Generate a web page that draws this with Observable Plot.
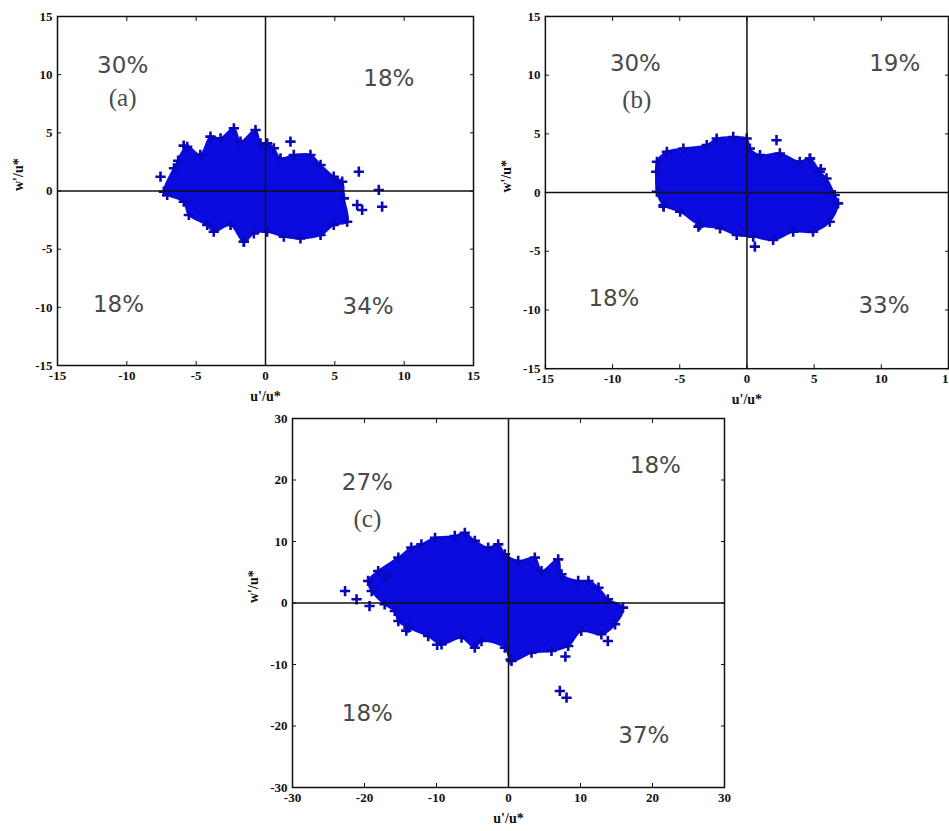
<!DOCTYPE html>
<html>
<head>
<meta charset="utf-8">
<script src="https://cdn.jsdelivr.net/npm/d3@7"></script>
<script src="https://cdn.jsdelivr.net/npm/@observablehq/plot@0.6"></script>
<style>
  html, body { margin: 0; padding: 0; background: #fff; overflow: hidden; }
  #wrap { position: relative; width: 949px; height: 831px; }
  .panel { position: absolute; }
  .panel svg { overflow: visible; background: transparent !important; }
</style>
</head>
<body>
<div id="wrap"></div>
<script>
// ---------- data ----------
const ticksAB = [-15, -10, -5, 0, 5, 10, 15];
const ticksC = [-30, -20, -10, 0, 10, 20, 30];
const xLabel = "u'/u*";
const yLabel = "w'/u*";

// outline of the dense point cloud, panel (a): [u'/u*, w'/u*]
const cloudA = [
  [-7.33,-0.06],[-6.6,1.95],[-5.65,3.8],[-4.7,3.1],[-3.97,4.67],[-3.24,4.53],[-2.28,5.39],
  [-1.8,4.24],[-0.72,5.24],[-0.36,4.1],[0.12,4.1],[0.6,3.67],[1.08,2.8],[2.04,3.1],
  [3.24,3.1],[3.97,2.24],[4.92,1.23],[5.53,0.8],[5.65,-0.63],[5.89,-2.64],[4.92,-2.92],
  [3.97,-3.78],[2.52,-4.07],[1.32,-3.93],[0.12,-3.5],[-0.84,-3.64],[-1.56,-4.36],
  [-2.52,-2.92],[-3.73,-3.5],[-4.2,-2.92],[-5.53,-2.06],[-5.89,-0.92],[-7.09,-0.34]
];
const outliersA = [
  [-7.57,1.23],[1.8,4.24],[6.73,1.66],[8.17,0.09],[8.41,-1.35],[6.61,-1.2],[6.97,-1.63],
  [-1.56,-4.36],[-5.9,3.9],[-6.3,2.6]
];
// panel (b)
const cloudB = [
  [-6.7,2.62],[-5.96,3.47],[-4.73,3.75],[-2.99,4.04],[-2.25,4.6],[-1.02,4.74],[-0.02,4.6],
  [0.22,3.75],[0.97,3.19],[2.45,3.33],[3.93,2.62],[4.68,2.9],[5.42,1.77],[5.92,1.2],
  [6.53,-0.21],[6.78,-0.92],[6.16,-2.48],[4.92,-3.33],[3.44,-3.33],[1.95,-4.04],
  [0.47,-3.75],[-0.76,-3.61],[-2.0,-3.04],[-3.49,-2.76],[-4.97,-1.63],[-6.21,-1.06],
  [-6.7,0.07],[-6.75,1.77]
];
const outliersB = [
  [2.2,4.46],[0.59,-4.6],[-3.61,-2.9],[5.5,2.0],[4.7,2.9],[-6.2,-1.2]
];
// panel (c)
const cloudC = [
  [-19.5,3.58],[-18.1,5.2],[-15.3,7.37],[-13.5,9.0],[-12.1,9.54],[-10.2,10.6],[-7.46,10.9],
  [-6.07,11.4],[-4.68,10.1],[-2.82,9.0],[-1.43,9.54],[-0.51,7.92],[1.35,6.83],[3.65,7.37],
  [4.58,5.2],[6.9,7.1],[7.36,4.67],[9.68,3.58],[11.1,3.58],[12.5,2.49],[13.8,0.6],
  [15.9,-0.76],[14.8,-3.46],[12.9,-5.09],[10.1,-4.55],[8.29,-6.99],[5.97,-7.8],[3.19,-8.08],
  [0.42,-9.43],[-0.51,-7.27],[-3.75,-6.18],[-4.68,-7.27],[-6.53,-5.64],[-9.3,-6.72],
  [-11.15,-5.37],[-13.9,-4.01],[-15.3,-2.93],[-15.8,-1.3],[-17.2,-0.21],[-19.0,1.95]
];
const outliersC = [
  [-22.7,1.95],[-21.1,0.6],[-19.3,-0.49],[13.8,-6.18],[7.13,-14.3],[8.06,-15.4],
  [-9.9,-6.8],[0.3,-9.2],[7.9,-8.7],[-14.2,-4.5],[-16.9,4.3]
];

const percentA = ["30%", "18%", "18%", "34%"];
const percentB = ["30%", "19%", "18%", "33%"];
const percentC = ["27%", "18%", "18%", "37%"];
const percentPosA = [[-10.3,10.8],[8.9,9.7],[-10.6,-9.8],[7.4,-9.9]];
const percentPosB = [[-8.3,11.0],[11.0,11.0],[-9.9,-9.0],[10.2,-9.6]];
const percentPosC = [[-19.6,19.6],[20.4,22.4],[-19.6,-18.0],[18.8,-21.5]];
const tags = ["(a)", "(b)", "(c)"];
const tagPos = [[-10.3,8.0],[-8.2,7.9],[-19.6,13.7]];

// ---------- drawing ----------
const BLUE = "#0b0be0";
const EDGE = "#0808b8";
const SERIF = "Liberation Serif";
const tickFont = {fontFamily: SERIF, fontSize: 13, fontWeight: "bold", fill: "#111"};

function panel({left, top, width, height, margin, ticks, cloud, outliers, percent, percentPos, tag, tagXY}) {
  const dom = [ticks[0], ticks[ticks.length - 1]];
  const labels = percent.map((t, i) => ({t, u: percentPos[i][0], w: percentPos[i][1]}));
  const marker = {x: d => d[0], y: d => d[1], symbol: "plus", r: 3.4, stroke: EDGE, strokeWidth: 2.6};
  const plot = Plot.plot({
    width, height,
    marginLeft: margin[3], marginRight: margin[1], marginTop: margin[0], marginBottom: margin[2],
    style: {background: "transparent", overflow: "visible", fontFamily: SERIF, fontSize: "13px", color: "#111"},
    x: {domain: dom, ticks},
    y: {domain: dom, ticks},
    marks: [
      Plot.line(cloud, {x: d => d[0], y: d => d[1], curve: "catmull-rom-closed",
        fill: BLUE, stroke: BLUE, strokeWidth: 2}),
      Plot.dot(cloud, marker),
      Plot.dot(outliers, marker),
      Plot.ruleX([0], {stroke: "#111", strokeWidth: 1.5}),
      Plot.ruleY([0], {stroke: "#111", strokeWidth: 1.5}),
      Plot.frame({stroke: "#111", strokeWidth: 1.5}),
      // inward tick marks on all four sides
      Plot.axisX({anchor: "bottom", ticks, tickSize: -4, tickFormat: () => "", label: null}),
      Plot.axisX({anchor: "top", ticks, tickSize: -4, tickFormat: () => "", label: null}),
      Plot.axisY({anchor: "left", ticks, tickSize: -4, tickFormat: () => "", label: null}),
      Plot.axisY({anchor: "right", ticks, tickSize: -4, tickFormat: () => "", label: null}),
      // tick labels
      Plot.text(ticks, {x: d => d, frameAnchor: "bottom", dy: 14, text: d => String(d), ...tickFont}),
      Plot.text(ticks, {y: d => d, frameAnchor: "left", dx: -5, textAnchor: "end", text: d => String(d), ...tickFont}),
      // axis titles
      Plot.text([xLabel], {text: d => d, frameAnchor: "bottom", dy: 35, fill: "#111",
        fontFamily: SERIF, fontSize: 14, fontWeight: "bold"}),
      Plot.text([yLabel], {text: d => d, frameAnchor: "left", dx: -39, rotate: -90, fill: "#111",
        fontFamily: SERIF, fontSize: 14, fontWeight: "bold"}),
      // quadrant percentages
      Plot.text(labels, {x: "u", y: "w", text: "t", fill: "#4a4a4a",
        fontFamily: "DejaVu Sans", fontSize: 23}),
      Plot.text([tag], {x: () => tagXY[0], y: () => tagXY[1], text: d => d, fill: "#4a4a4a",
        fontFamily: SERIF, fontSize: 25})
    ]
  });
  const div = document.createElement("div");
  div.className = "panel";
  div.style.left = left + "px";
  div.style.top = top + "px";
  div.appendChild(plot);
  document.getElementById("wrap").appendChild(div);
}

panel({left: 0, top: 0, width: 485, height: 410, margin: [16, 12, 45, 57],
  ticks: ticksAB, cloud: cloudA, outliers: outliersA,
  percent: percentA, percentPos: percentPosA, tag: tags[0], tagXY: tagPos[0]});
panel({left: 490, top: 0, width: 460, height: 410, margin: [16, 1, 41, 55],
  ticks: ticksAB, cloud: cloudB, outliers: outliersB,
  percent: percentB, percentPos: percentPosB, tag: tags[1], tagXY: tagPos[1]});
panel({left: 230, top: 400, width: 500, height: 431, margin: [18, 6, 44, 62],
  ticks: ticksC, cloud: cloudC, outliers: outliersC,
  percent: percentC, percentPos: percentPosC, tag: tags[2], tagXY: tagPos[2]});
</script>
</body>
</html>
